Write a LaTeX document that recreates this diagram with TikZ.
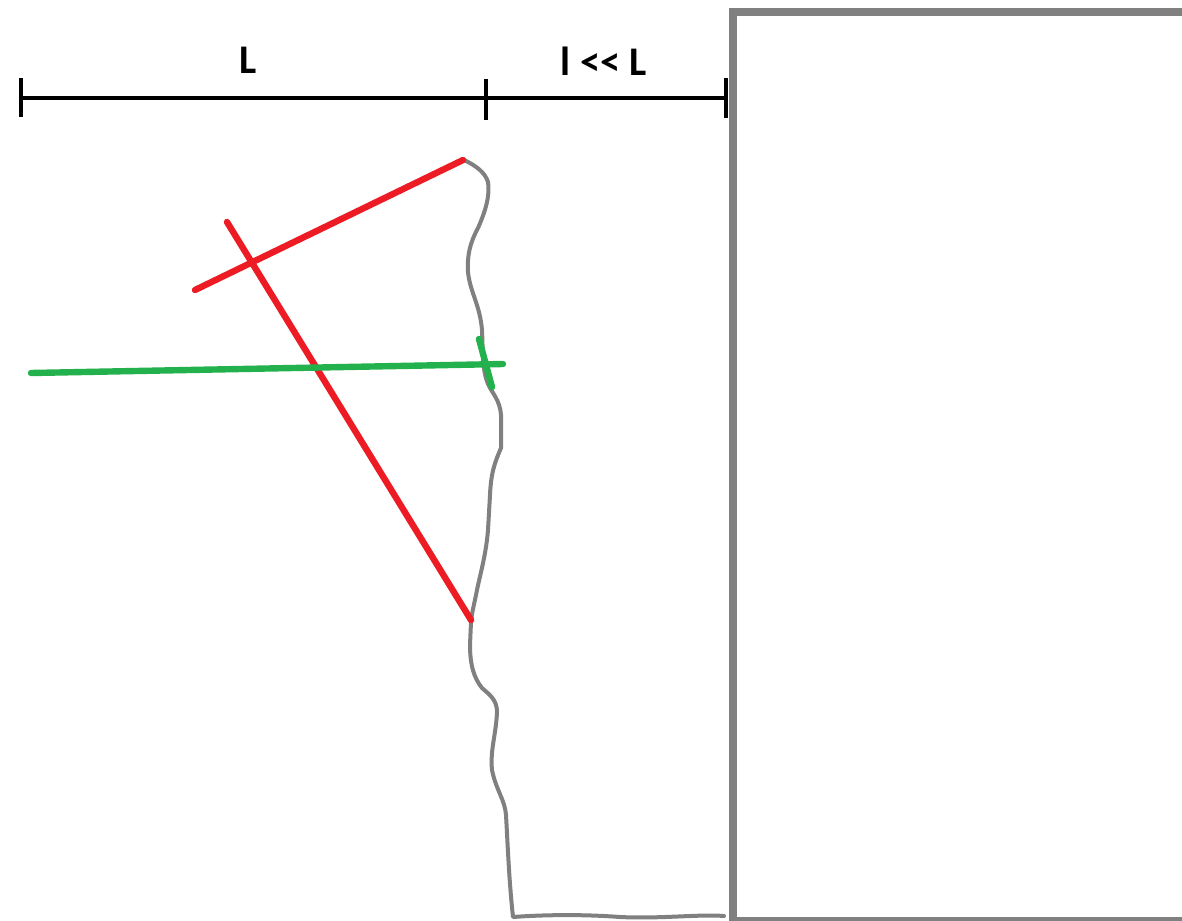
\documentclass[tikz,border=0pt]{standalone}
\usepackage{fontspec}
\setmainfont{Carlito}
\begin{document}
\begin{tikzpicture}[x=0.75pt,y=-0.75pt,
  scaleline/.style={line width=3pt,black},
  tickline/.style={line width=3pt,black},
  redline/.style={line width=4.8pt,color={rgb,255:red,237;green,28;blue,36},line cap=round},
  greenline/.style={line width=4.8pt,color={rgb,255:red,34;green,177;blue,76},line cap=round},
  crack/.style={line width=3pt,color={rgb,255:red,128;green,128;blue,128},line cap=round,line join=round},
  wall/.style={line width=6pt,color={rgb,255:red,128;green,128;blue,128}},
  lbl/.style={font=\fontsize{30.5}{33}\selectfont\bfseries,inner sep=0pt}]
\useasboundingbox (0,0) rectangle (1182,921);
\fill[white] (0,0) rectangle (1182,921);
% wall
\begin{scope}
\clip (0,0) rectangle (1182,921);
\draw[wall] (1300,920.5) -- (732.5,920.5) -- (732.5,12) -- (1300,12);
\end{scope}
% scale
\coordinate (s0) at (21,98);
\coordinate (s1) at (486,98);
\coordinate (s2) at (726,98);
\draw[scaleline] (s0) -- (s1) -- (s2);
\draw[tickline] (21,78) -- (21,117);
\draw[tickline] (486,79) -- (486,120);
\draw[line width=3.6pt] (726,78) -- (726,118);
\node[lbl] (labL) at (248,60) {L};
\node[lbl] (labl) at (604,61) {l {<}{<} L};
% crack
\draw[crack] (462,159) .. controls (475,165) and (485,172) .. (488,182)
  .. controls (490,195) and (486,210) .. (478,228)
  .. controls (470,243) and (467,255) .. (468,272)
  .. controls (470,292) and (480,305) .. (482,330)
  .. controls (483,350) and (482,370) .. (488,384)
  .. controls (492,393) and (500,400) .. (501,415)
  -- (501,448)
  .. controls (495,462) and (491,472) .. (490,495)
  -- (488,530)
  .. controls (486,555) and (480,575) .. (477,590)
  .. controls (474,605) and (472,612) .. (471,622)
  -- (470,645)
  .. controls (470,665) and (474,678) .. (482,688)
  .. controls (490,695) and (497,700) .. (497,712)
  .. controls (496,735) and (490,750) .. (492,770)
  .. controls (496,790) and (505,800) .. (506,815)
  .. controls (508,850) and (509,880) .. (513,917)
  .. controls (540,915) and (580,914) .. (620,917)
  .. controls (660,919) and (700,914) .. (724,916);
% red lines
\coordinate (r1a) at (463,160);
\coordinate (r1b) at (195,290);
\coordinate (r2a) at (227,222);
\coordinate (r2b) at (471,620);
\draw[redline] (r1a) -- (r1b);
\draw[redline] (r2a) -- (r2b);
% green lines
\coordinate (g1a) at (31,373);
\coordinate (g1b) at (503,364);
\coordinate (g2a) at (479,339);
\coordinate (g2b) at (492,387);
\draw[greenline] (g1a) -- (g1b);
\draw[greenline] (g2a) -- (g2b);
\end{tikzpicture}
\end{document}
